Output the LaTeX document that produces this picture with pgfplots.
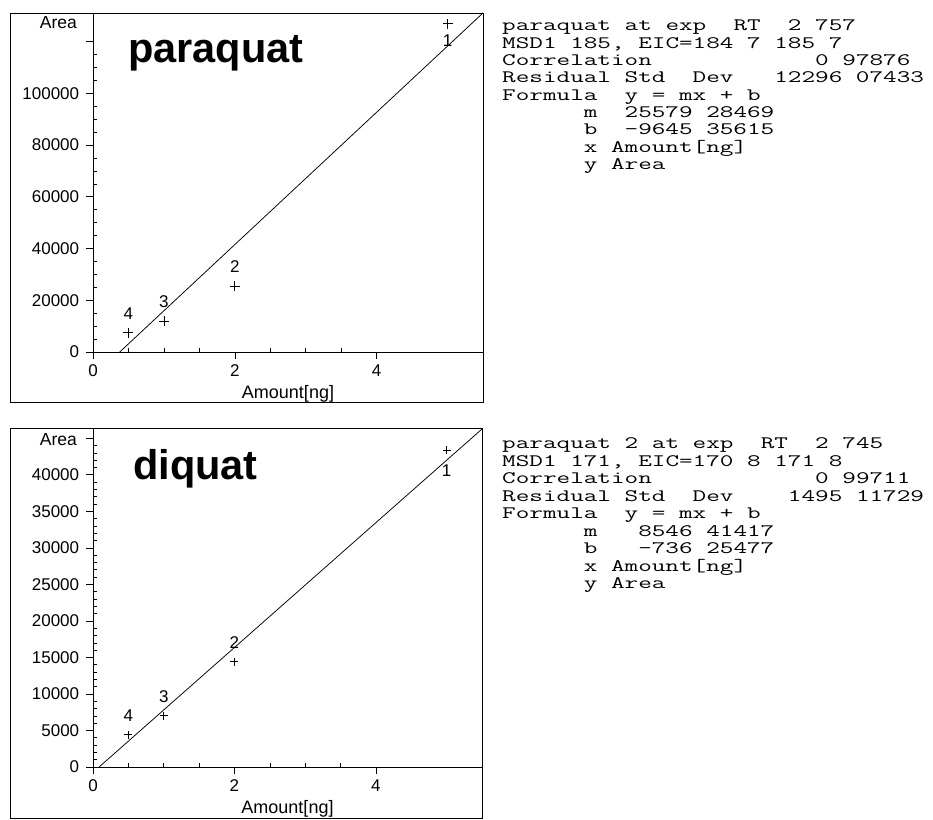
\documentclass[border=0pt]{standalone}
\usepackage{fontspec}
\setmainfont{Liberation Sans}
\usepackage{graphicx}
\usepackage{pgfplots}
\pgfplotsset{compat=1.18}
\newcommand\tickfont{\fontsize{17}{17}\selectfont}
\newcommand\tl[3]{\node[anchor=base west, inner sep=0pt] at (#1pt,#2pt) {\scalebox{1.51}[1]{\ttfamily\fontsize{17.5}{17.5}\selectfont #3}};}
\pgfplotsset{
  chart/.style={
    scale only axis, axis lines*=left,
    xmin=0, xmax=5.5, ymin=0,
    xtick={0,2,4}, xticklabels={0,2,4}, minor x tick num=3,
    tick align=outside, major tick length=7pt, minor tick length=4pt,
    minor x tick style={yshift=4pt}, minor y tick style={xshift=4pt},
    tick style={black, line width=0.6pt},
    axis line style={black, line width=0.8pt},
    ticklabel style={font=\tickfont},
    scaled ticks=false, clip=false,
    xticklabel shift=2.3pt, yticklabel shift=3.3pt,
    xlabel={Amount[ng]},
    xlabel style={font=\fontsize{18}{18}\selectfont, at={(axis description cs:0.5,0)}, anchor=center, yshift=-42pt},
  },
  lab/.style={only marks, mark=+, black, mark options={line width=0.8pt},
    nodes near coords, point meta=explicit symbolic,
    every node near coord/.append style={font=\tickfont, inner sep=0pt}},
}
\begin{document}
\begin{tikzpicture}[x=1pt,y=1pt]
\useasboundingbox (0,0) rectangle (933,819);
% frames
\draw[black, line width=0.9pt] (10,417) rectangle (483,806);
\draw[black, line width=0.9pt] (10,1) rectangle (482,391);

% ---------- paraquat ----------
\begin{axis}[chart, at={(93pt,467pt)}, anchor=south west, width=390pt, height=339pt,
  ymax=131040.71,
  ytick={0,20000,40000,60000,80000,100000,120000},
  yticklabels={0,20000,40000,60000,80000,100000,{}},
  minor y tick num=3]
\addplot[black, line width=0.75pt] coordinates {(0.37708,0) (5.5,131040.71)};
\addplot[lab, mark size=5pt, nodes near coords align={anchor=south, yshift=13pt}]
  table[row sep=\\, meta=lab] {x y lab\\ 0.5 7500 4\\ 1 11800 3\\ 2 25400 2\\};
\addplot[lab, mark size=5pt, nodes near coords align={anchor=north, yshift=-11pt}]
  table[row sep=\\, meta=lab] {x y lab\\ 5 126850 1\\};
\node[anchor=east, inner sep=0pt, font=\fontsize{17.5}{17.5}\selectfont] at (rel axis cs:0,1) [xshift=-16pt, yshift=-10pt] {Area};
\end{axis}
\node[anchor=base west, inner sep=0pt, font=\bfseries\fontsize{41.5}{41.5}\selectfont] at (128pt,756pt) {paraquat};

% ---------- diquat ----------
\begin{axis}[chart, at={(93pt,52pt)}, anchor=south west, width=389pt, height=338pt,
  ymax=46269.02,
  ytick={0,5000,10000,15000,20000,25000,30000,35000,40000,45000},
  yticklabels={0,5000,10000,15000,20000,25000,30000,35000,40000,{}},
  minor y tick num=4]
\addplot[black, line width=0.75pt] coordinates {(0.086148,0) (5.5,46269.02)};
\addplot[lab, mark size=4pt, nodes near coords align={anchor=south, yshift=13pt}]
  table[row sep=\\, meta=lab] {x y lab\\ 0.5 4420 4\\ 1 7040 3\\ 2 14400 2\\};
\addplot[lab, mark size=4pt, nodes near coords align={anchor=north, yshift=-14pt}]
  table[row sep=\\, meta=lab] {x y lab\\ 5 43370 1\\};
\node[anchor=east, inner sep=0pt, font=\fontsize{17.5}{17.5}\selectfont] at (rel axis cs:0,1) [xshift=-16pt, yshift=-11pt] {Area};
\end{axis}
\node[anchor=base west, inner sep=0pt, font=\bfseries\fontsize{41.5}{41.5}\selectfont] at (133pt,339pt) {diquat};

% ---------- text blocks ----------
\tl{502}{788}{paraquat~at~exp~~RT~~2~757}
\tl{502}{770.7}{MSD1~185,~EIC=184~7~185~7}
\tl{502}{753.4}{Correlation~~~~~~~~~~~~0~97876}
\tl{502}{736.1}{Residual~Std~~Dev~~~12296~07433}
\tl{502}{718.8}{Formula~~y~=~mx~+~b}
\tl{502}{701.5}{~~~~~~m~~25579~28469}
\tl{502}{684.2}{~~~~~~b~~-9645~35615}
\tl{502}{666.9}{~~~~~~x~Amount[ng]}
\tl{502}{649.6}{~~~~~~y~Area}

\tl{502}{370}{paraquat~2~at~exp~~RT~~2~745}
\tl{502}{352.5}{MSD1~171,~EIC=170~8~171~8}
\tl{502}{335}{Correlation~~~~~~~~~~~~0~99711}
\tl{502}{317.5}{Residual~Std~~Dev~~~~1495~11729}
\tl{502}{300}{Formula~~y~=~mx~+~b}
\tl{502}{282.5}{~~~~~~m~~~8546~41417}
\tl{502}{265}{~~~~~~b~~~-736~25477}
\tl{502}{247.5}{~~~~~~x~Amount[ng]}
\tl{502}{230}{~~~~~~y~Area}
\end{tikzpicture}
\end{document}
